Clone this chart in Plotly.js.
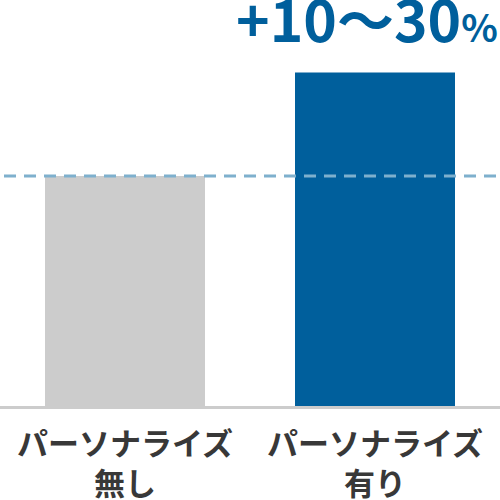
<!DOCTYPE html>
<html>
<head>
<meta charset="utf-8">
<script src="https://cdn.plot.ly/plotly-3.0.1.min.js"></script>
<style>html,body{margin:0;padding:0;background:#fff}</style>
</head>
<body>
<div id="chart" style="width:500px;height:500px"></div>
<script>
var categories = ["無し", "有り"];
var labelLine1 = ["パーソナライズ", "パーソナライズ"];
var labelLine2 = ["無し", "有り"];
var values = [100, 145];
var barColors = ["#cccccc", "#005f9c"];
var referenceValue = 100; // dashed line = level without personalisation
var upliftText = "+10〜30<span style='font-size:38px'>%</span>";

var data = [
  {
    type: "bar",
    x: categories,
    y: values,
    marker: { color: barColors },
    hoverinfo: "none",
  },
]

// category labels as annotations, placed under each bar
var labelFont = { size: 31, weight: "bold", color: "#383838", family: "Noto Sans CJK JP" };
var annotations = categories.map(function (c, i) {
  return {
    xref: "x", yref: "paper", x: c, y: -0.157, yanchor: "middle",
    showarrow: false, text: labelLine1[i] + "<br>" + labelLine2[i], font: labelFont,
  };
});
annotations.push({
  xref: "paper", yref: "paper", x: 1.0, y: 1.0927,
  xanchor: "right", yanchor: "middle",
  showarrow: false, text: upliftText,
  font: { size: 57, weight: "bold", color: "#005f9c", family: "Noto Sans CJK JP" },
});

var layout = {
  width: 500,
  height: 500,
  margin: { t: 50, r: 0, l: 0, b: 94 },
  paper_bgcolor: "#fff",
  plot_bgcolor: "#fff",
  bargap: 0.36,
  showlegend: false,
  font: { family: "Noto Sans CJK JP", color: "#333333" },
  xaxis: {
    showticklabels: false,
    showline: true,
    linecolor: "#cccccc",
    linewidth: 3,
    ticks: "",
    showgrid: false,
    zeroline: false,
    fixedrange: true,
  },
  yaxis: {
    range: [0, 154.8],
    visible: false,
    showgrid: false,
    zeroline: false,
    fixedrange: true,
  },
  shapes: [
    {
      type: "line",
      xref: "paper",
      x0: 0.008,
      x1: 1,
      yref: "y",
      y0: referenceValue,
      y1: referenceValue,
      line: { color: "#7eb0cd", width: 3, dash: "12px,8px" },
    },
  ],
  annotations: annotations,
}
Plotly.newPlot("chart", data, layout, { displayModeBar: false, staticPlot: true })
</script>
</body>
</html>
